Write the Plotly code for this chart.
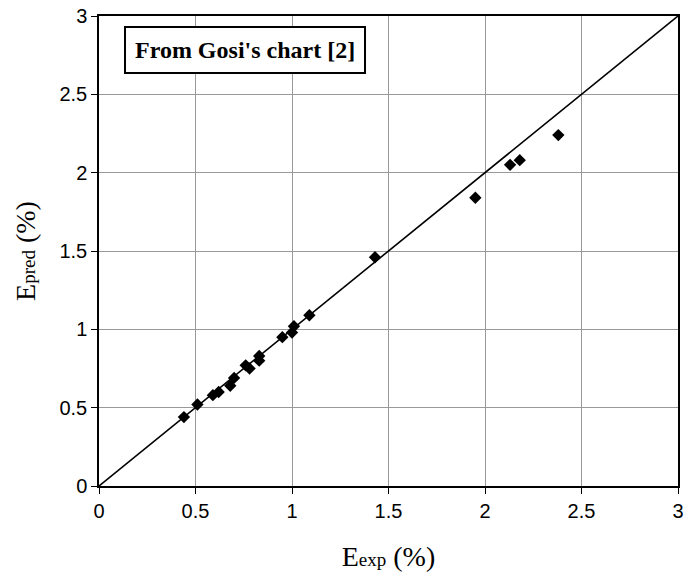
import plotly.graph_objects as go

# Experimental vs predicted values (%)
e_exp = [0.44, 0.51, 0.59, 0.62, 0.68, 0.70, 0.76, 0.78, 0.83, 0.83,
         0.95, 1.00, 1.01, 1.09, 1.43, 1.95, 2.13, 2.18, 2.38]
e_pred = [0.44, 0.52, 0.58, 0.60, 0.64, 0.69, 0.77, 0.75, 0.83, 0.80,
          0.95, 0.98, 1.02, 1.09, 1.46, 1.84, 2.05, 2.08, 2.24]

# y = x reference line endpoints
ref_line = [0, 3]

tick_vals = [0, 0.5, 1, 1.5, 2, 2.5, 3]
tick_text = ["0", "0.5", "1", "1.5", "2", "2.5", "3"]

fig = go.Figure()
fig.add_trace(go.Scatter(x=ref_line, y=ref_line, mode="lines",
                         line=dict(color="black", width=1.6),
                         hoverinfo="skip", showlegend=False))
fig.add_trace(go.Scatter(x=e_exp, y=e_pred, mode="markers",
                         marker=dict(symbol="diamond", size=9.5, color="black",
                                     line=dict(width=0)),
                         showlegend=False))

axis_common = dict(
    range=[0, 3], tickvals=tick_vals, ticktext=tick_text,
    showgrid=True, gridcolor="#999999", gridwidth=1,
    showline=True, linecolor="black", linewidth=1.5, mirror=True,
    ticks="outside", ticklen=6, tickwidth=1.2, tickcolor="black",
    zeroline=False, automargin=False,
    tickfont=dict(family="Liberation Sans, Arial", size=20, color="black"),
)

title_font = dict(family="Liberation Serif, Times New Roman", size=28, color="#000000")

fig.update_layout(
    width=697, height=579,
    margin=dict(l=99, r=19, t=16, b=93, autoexpand=False),
    paper_bgcolor="white", plot_bgcolor="white",
    xaxis=dict(**axis_common,
               title=dict(text="E<span style='font-size:19px'>exp</span> (%)",
                          standoff=26, font=title_font)),
    yaxis=dict(**axis_common,
               title=dict(text="E<span style='font-size:19px'>pred</span> (%)",
                          standoff=16, font=title_font)),
    annotations=[dict(
        text="<b>From Gosi's chart [2]</b>",
        xref="paper", yref="paper", x=0.253, y=0.927,
        xanchor="center", yanchor="middle", showarrow=False,
        font=dict(family="Liberation Serif, Times New Roman", size=24, color="black"),
        bordercolor="black", borderwidth=2, borderpad=9, bgcolor="white",
    )],
)

fig.write_html("out.html")
